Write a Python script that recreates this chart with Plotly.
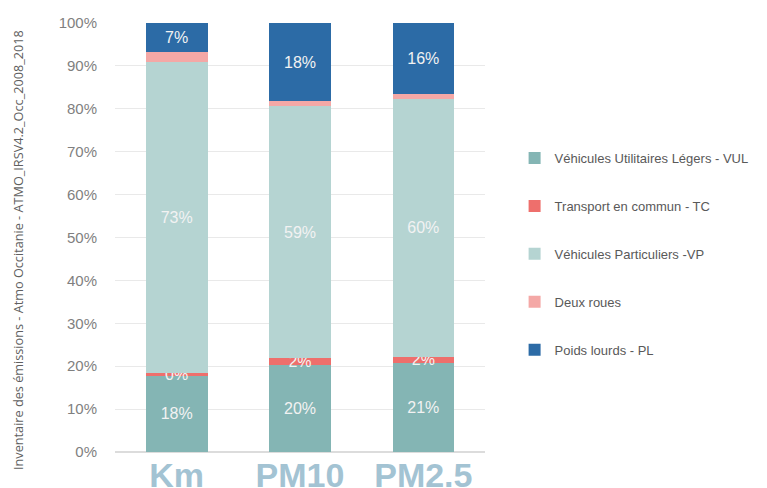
import plotly.graph_objects as go

categories = ['Km', 'PM10', 'PM2.5']

# part (%) de chaque catégorie de véhicules, du bas vers le haut de la pile
vul = [17.9, 20.3, 20.7]
tc = [0.4, 1.6, 1.5]
vp = [72.6, 58.7, 60.2]
deux_roues = [2.3, 1.2, 1.1]
pl = [6.8, 18.2, 16.5]

series = [
    ('Véhicules Utilitaires Légers - VUL', vul, '#84b5b4', True),
    ('Transport en commun - TC', tc, '#ee6f6c', True),
    ('Véhicules Particuliers -VP', vp, '#b5d4d2', True),
    ('Deux roues', deux_roues, '#f4a8a6', False),
    ('Poids lourds - PL', pl, '#2c6ba6', True),
]

FONT = 'Liberation Sans, Arial'

fig = go.Figure()
for name, vals, color, labelled in series:
    fig.add_trace(go.Bar(
        x=categories,
        y=vals,
        name=name,
        legendgroup=name,
        marker=dict(color=color, line=dict(width=0)),
        text=[f'{v:.0f}%' for v in vals] if labelled else None,
        textposition='inside' if labelled else 'none',
        insidetextanchor='middle',
        textfont=dict(family=FONT, size=16, color='#f2f2f2'),
        hoverinfo='skip',
    ))

# the page body adds an 8px offset, so the figure is 8px smaller than the window
fig.update_layout(
    barmode='stack',
    bargap=0.5,
    width=759,
    height=480,
    margin=dict(l=107, r=282, t=15, b=36),
    plot_bgcolor='white',
    paper_bgcolor='white',
    uniformtext=dict(minsize=16, mode='show'),
    legend=dict(
        x=1.08, xanchor='left', y=0.72, yanchor='top',
        traceorder='grouped',
        tracegroupgap=28,
        font=dict(family=FONT, size=13, color='#595959'),
        itemwidth=30,
    ),
    xaxis=dict(
        tickfont=dict(family=FONT, size=34, color='#a3c3d3', weight='bold'),
        showgrid=False,
        showline=False,
        ticks='',
        automargin=False,
    ),
    yaxis=dict(
        range=[0, 100],
        dtick=10,
        ticksuffix='%',
        tickfont=dict(family=FONT, size=15, color='#7f7f7f'),
        gridcolor='#e9e9e9',
        gridwidth=1,
        zeroline=True,
        zerolinecolor='#dcdcdc',
        ticklabelstandoff=17,
        automargin=False,
    ),
    annotations=[dict(
        text='Inventaire des émissions - Atmo Occitanie - ATMO_IRSV4.2_Occ_2008_2018',
        xref='paper', yref='paper', x=-0.262, y=0.471,
        xanchor='center', yanchor='middle',
        textangle=-90, showarrow=False,
        font=dict(family='Open Sans', size=12.7, color='#5f5f5f'),
    )],
    shapes=[dict(
        type='circle', xref='paper', yref='paper',
        x0=0.0, x1=0.09, y0=1.047, y1=1.12,
        fillcolor='#f5a623', line=dict(width=0),
    )],
)

fig.write_html('out.html')
